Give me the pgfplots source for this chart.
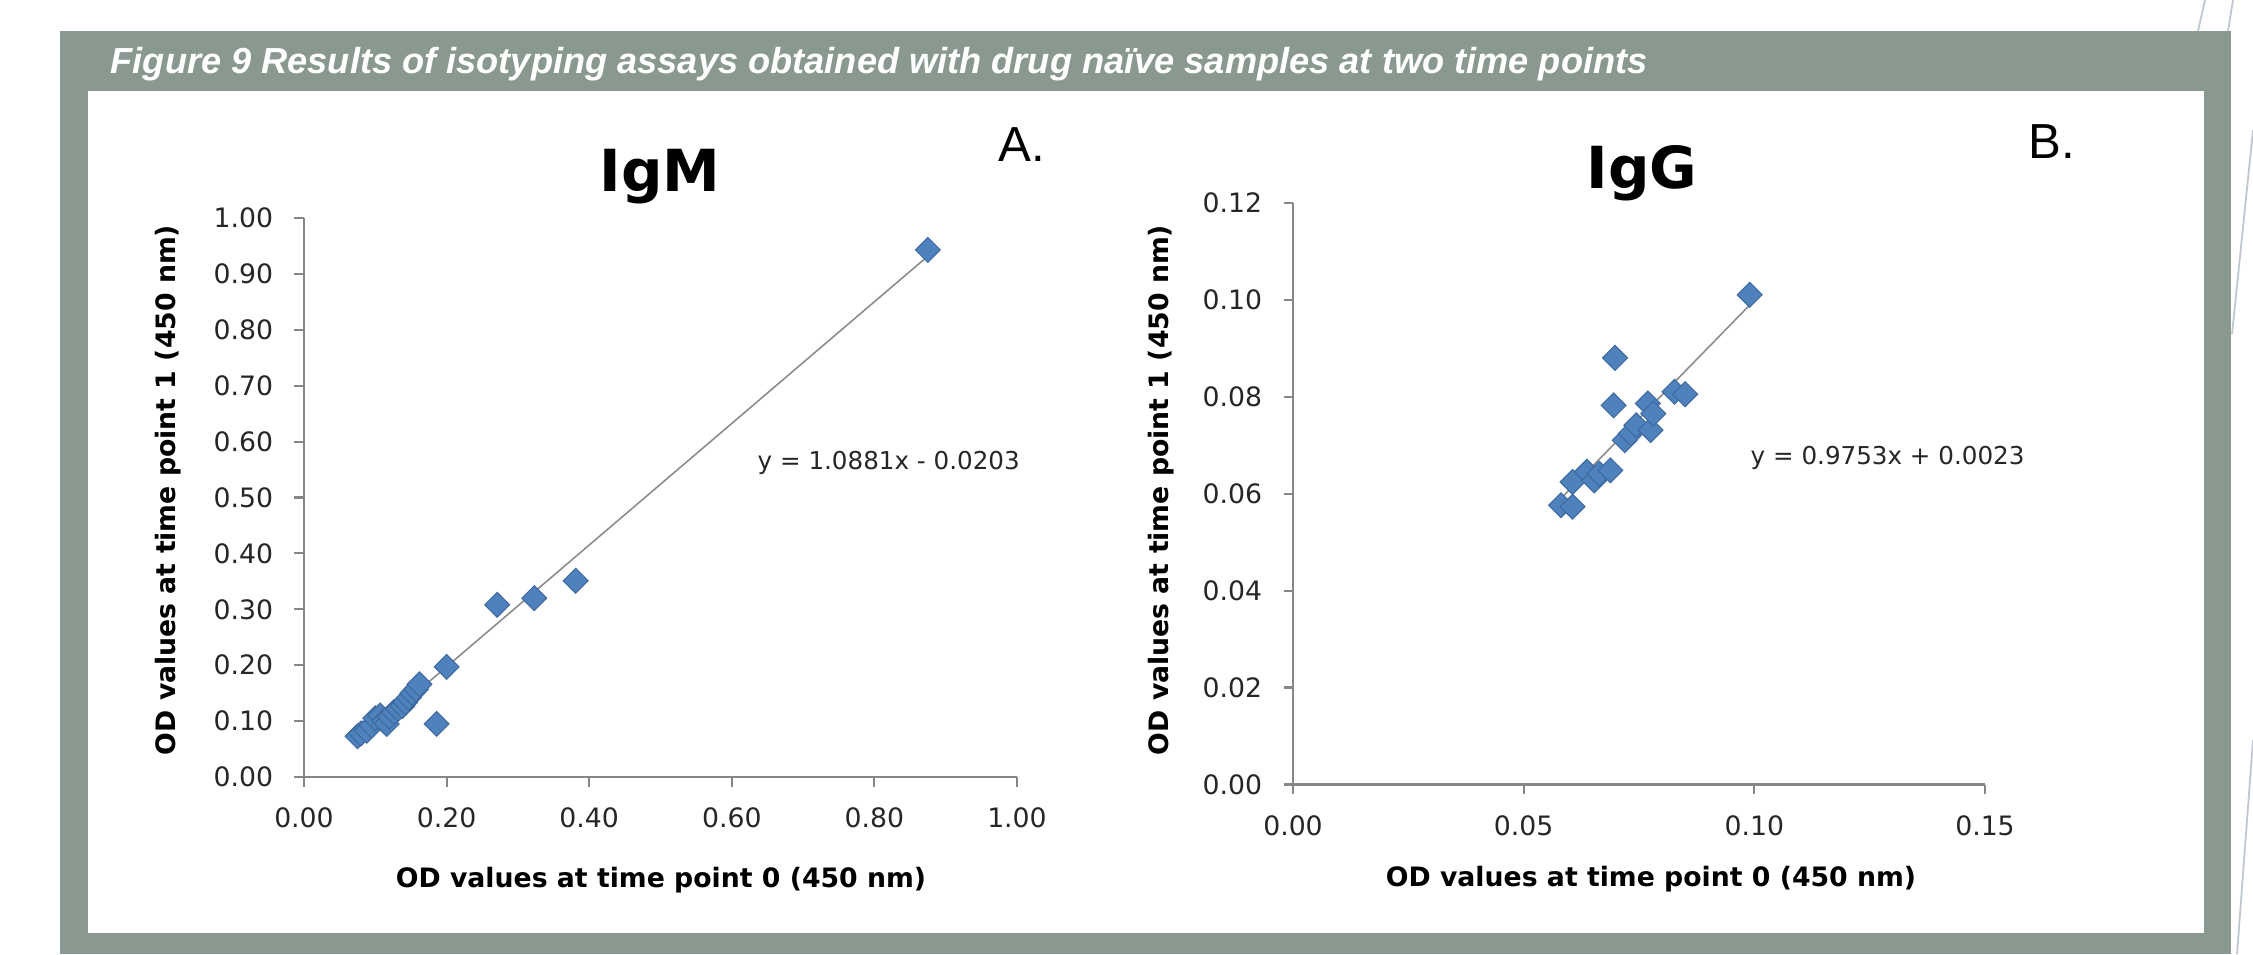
\documentclass[border=0pt]{standalone}
\usepackage{pgfplots}
\pgfplotsset{compat=1.18}
\usepackage{pgfplotstable}
\usepackage{fontspec}
\setmainfont{DejaVu Sans}
\newfontfamily\arialfont{Liberation Sans}
\definecolor{framec}{RGB}{138,153,143}
\definecolor{mk}{RGB}{79,129,189}
\definecolor{mkedge}{RGB}{62,106,160}
\definecolor{axgray}{RGB}{134,134,134}
\definecolor{trend}{RGB}{140,140,140}
\definecolor{deco}{RGB}{190,198,208}
\definecolor{txt}{RGB}{38,38,38}

\pgfplotstableread{
x y
0.075 0.073
0.080 0.078
0.088 0.083
0.095 0.092
0.100 0.105
0.107 0.110
0.112 0.100
0.116 0.095
0.120 0.108
0.126 0.116
0.132 0.122
0.138 0.127
0.142 0.134
0.147 0.142
0.152 0.150
0.157 0.157
0.162 0.166
0.186 0.095
0.200 0.197
0.271 0.308
0.323 0.320
0.381 0.351
0.875 0.943
}\igm

\pgfplotstableread{
x y
0.0581 0.0576
0.0606 0.0573
0.0606 0.0624
0.0637 0.0645
0.0653 0.0627
0.0664 0.0641
0.0688 0.0648
0.0695 0.0782
0.0698 0.0880
0.0719 0.0710
0.0732 0.0724
0.0744 0.0741
0.0769 0.0786
0.0775 0.0731
0.0781 0.0765
0.0827 0.0810
0.0850 0.0805
0.0990 0.1010
}\igg

\pgfplotsset{
  chartstyle/.style={
    scale only axis, anchor=south west,
    axis x line=bottom, axis y line=left,
    axis line style={-, axgray, line width=0.6pt},
    tick align=outside, major tick length=0.95mm,
    tick style={axgray, line width=0.6pt},
    ticklabel style={font=\fontsize{7.6}{9}\selectfont, text=txt},
    /pgf/number format/assume math mode=true,
    /pgf/number format/fixed, /pgf/number format/fixed zerofill,
    /pgf/number format/precision=2,
    scaled ticks=false,
    yticklabel style={xshift=-0.9mm},
    xticklabel style={yshift=-0.9mm},
    clip=false,
  },
  diam/.style={only marks, mark=square*, mark size=2.5pt,
    mark options={rotate=45, fill=mk, draw=mkedge, line width=0.3pt}},
}

\begin{document}
\begin{tikzpicture}[x=0.1mm,y=0.1mm]
\useasboundingbox (0,0) rectangle (2253,954);
\fill[white] (0,0) rectangle (2253,954);
\draw[deco, line width=0.5pt] (2205,954) -- (2198,923);
\draw[deco, line width=0.5pt] (2233,954) -- (2228,923);
\draw[deco, line width=0.5pt] (2253,824) -- (2232,620);
\draw[deco, line width=0.5pt] (2253,214) -- (2237,0);
\fill[framec] (60,0) rectangle (2231,923);
\fill[white] (88,21) rectangle (2204,863);
\node[anchor=base west, text=white, inner sep=0,
  font=\arialfont\bfseries\itshape\fontsize{10.3}{12}\selectfont] at (110,880)
  {Figure 9 Results of isotyping assays obtained with drug naïve samples at two time points};

% IgM
\begin{axis}[chartstyle, at={(30.4mm,17.7mm)}, width=71.3mm, height=55.9mm,
  xmin=0, xmax=1, ymin=0, ymax=1,
  xtick={0,0.2,0.4,0.6,0.8,1.0},
  ytick={0,0.1,0.2,0.3,0.4,0.5,0.6,0.7,0.8,0.9,1.0}]
\addplot[diam] table[x=x,y=y] {\igm};
\addplot[trend, line width=0.45pt, no marks] coordinates {(0.075,0.0613) (0.875,0.9318)};
\end{axis}

% IgG
\begin{axis}[chartstyle, at={(129.3mm,16.95mm)}, width=69.2mm, height=58.18mm,
  xmin=0, xmax=0.15, ymin=0, ymax=0.12,
  xtick={0,0.05,0.10,0.15},
  ytick={0,0.02,0.04,0.06,0.08,0.10,0.12}]
\addplot[diam] table[x=x,y=y] {\igg};
\addplot[trend, line width=0.45pt, no marks] coordinates {(0.058,0.0589) (0.099,0.0989)};
\end{axis}

% titles
\node[anchor=base, font=\bfseries\fontsize{16.5}{19}\selectfont, inner sep=0] at (660,762) {IgM};
\node[anchor=base, font=\bfseries\fontsize{16.5}{19}\selectfont, inner sep=0] at (1642,765) {IgG};
\node[anchor=base west, font=\arialfont\fontsize{14}{16}\selectfont, inner sep=0] at (998,792) {A.};
\node[anchor=base west, font=\arialfont\fontsize{14}{16}\selectfont, inner sep=0] at (2028,795) {B.};

% axis labels
\node[anchor=base, font=\bfseries\fontsize{7.6}{9}\selectfont, inner sep=0] at (661,67) {OD values at time point 0 (450 nm)};
\node[anchor=base, font=\bfseries\fontsize{7.6}{9}\selectfont, inner sep=0] at (1651,68) {OD values at time point 0 (450 nm)};
\node[anchor=base, rotate=90, font=\bfseries\fontsize{7.6}{9}\selectfont, inner sep=0] at (175,464) {OD values at time point 1 (450 nm)};
\node[anchor=base, rotate=90, font=\bfseries\fontsize{7.6}{9}\selectfont, inner sep=0] at (1168,464) {OD values at time point 1 (450 nm)};

% equations
\node[anchor=west, font=\fontsize{7}{9}\selectfont, text=txt, inner sep=0] at (757,491) {y = 1.0881x - 0.0203};
\node[anchor=west, font=\fontsize{7}{9}\selectfont, text=txt, inner sep=0] at (1750,496) {y = 0.9753x + 0.0023};
\end{tikzpicture}
\end{document}
